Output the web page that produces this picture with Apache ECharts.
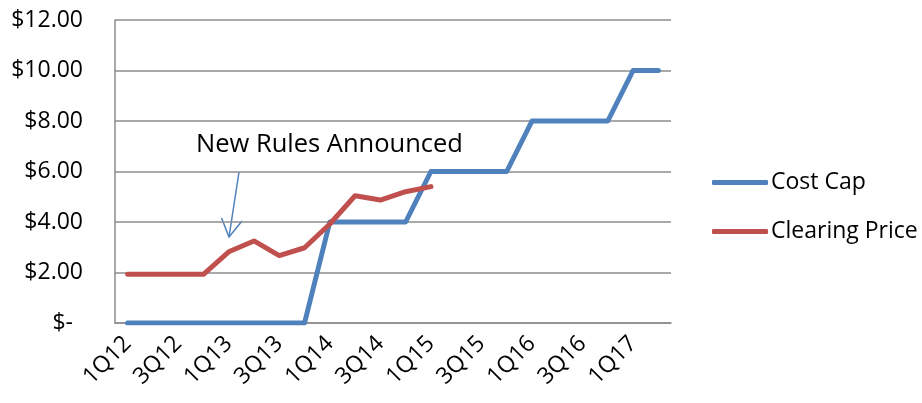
<!DOCTYPE html>
<html>
<head>
<meta charset="utf-8">
<script src="https://cdn.jsdelivr.net/npm/echarts@6/dist/echarts.min.js"></script>
<style>
    html, body { margin: 0; padding: 0; background: #fff; }
    #chart { width: 922px; height: 403px; }
</style>
</head>
<body>
<div id="chart"></div>
<script>
var quarters = ['1Q12', '2Q12', '3Q12', '4Q12', '1Q13', '2Q13', '3Q13', '4Q13',
    '1Q14', '2Q14', '3Q14', '4Q14', '1Q15', '2Q15', '3Q15', '4Q15',
    '1Q16', '2Q16', '3Q16', '4Q16', '1Q17', '2Q17'];
var costCap = [0, 0, 0, 0, 0, 0, 0, 0, 4, 4, 4, 4, 6, 6, 6, 6, 8, 8, 8, 8, 10, 10];
var clearingPrice = [1.93, 1.93, 1.93, 1.93, 2.82, 3.25, 2.67, 2.98, 3.92, 5.04, 4.87, 5.2, 5.4];
var yTicks = [0, 2, 4, 6, 8, 10, 12];

var font = 'Open Sans';
var gray = '#8c8c8c';

var myChart = echarts.init(document.getElementById('chart'));
var option = {
    animation: false,
    color: ['#4f81bd', '#c0504d'],
    grid: {
        left: 115,
        right: 251,
        top: 20,
        bottom: 80
    },
    legend: {
        orient: 'vertical',
        left: 707,
        top: 166,
        itemWidth: 56,
        itemHeight: 5,
        itemGap: 26,
        icon: 'roundRect',
        textStyle: {fontFamily: font, fontSize: 23, color: '#000', padding: [0, 0, 0, -2]},
        data: ['Cost Cap', 'Clearing Price']
    },
    xAxis: {
        type: 'category',
        data: quarters,
        boundaryGap: true,
        axisLine: {lineStyle: {color: gray, width: 1.5}},
        axisTick: {show: false},
        axisLabel: {
            interval: 1,
            rotate: 45,
            margin: 17,
            fontFamily: font,
            fontSize: 23,
            color: '#000'
        }
    },
    yAxis: {
        type: 'value',
        min: yTicks[0],
        max: yTicks[yTicks.length - 1],
        interval: 2,
        axisLine: {show: true, lineStyle: {color: gray, width: 1.5}},
        axisTick: {show: false},
        splitLine: {lineStyle: {color: gray, width: 1.5}},
        axisLabel: {
            margin: 32,
            fontFamily: font,
            fontSize: 23,
            color: '#000',
            formatter: function (v) {
                if (v === 0) {
                    return '{z|$-}';
                }
                return '$' + v.toFixed(2);
            },
            rich: {
                z: {fontFamily: font, fontSize: 23, color: '#000', padding: [0, 10, 0, 0]}
            }
        }
    },
    series: [
        {
            name: 'Cost Cap',
            type: 'line',
            data: costCap,
            symbol: 'none',
            lineStyle: {width: 5, cap: 'round', join: 'round'}
        },
        {
            name: 'Clearing Price',
            type: 'line',
            data: clearingPrice,
            symbol: 'none',
            lineStyle: {width: 5, cap: 'round', join: 'round'}
        }
    ],
    graphic: [
        {
            type: 'text',
            left: 196,
            top: 132,
            style: {text: 'New Rules Announced', fontFamily: font, fontSize: 25.5, fill: '#000'}
        },
        {
            type: 'line',
            shape: {x1: 239, y1: 172, x2: 229, y2: 237},
            style: {stroke: '#4f81bd', lineWidth: 1.5}
        },
        {
            type: 'polyline',
            shape: {points: [[221.5, 218], [229, 237], [242, 221]]},
            style: {stroke: '#4f81bd', lineWidth: 1.5, fill: null}
        }
    ]
};
myChart.setOption(option);
</script>
</body>
</html>
